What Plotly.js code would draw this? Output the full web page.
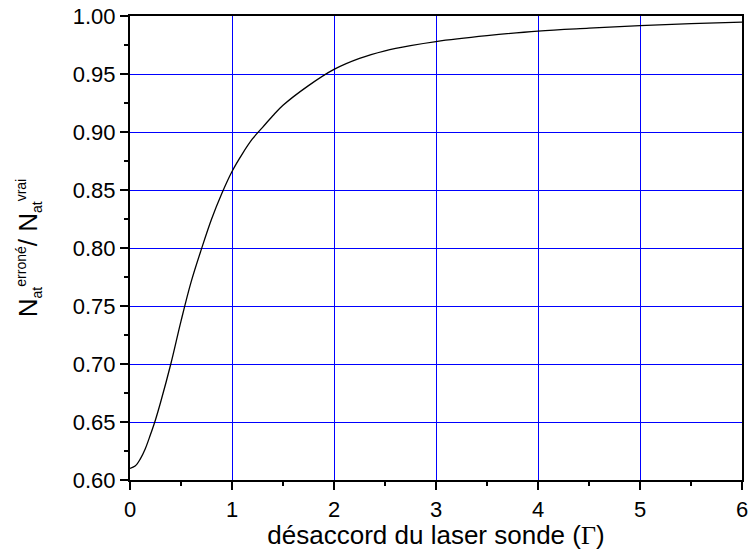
<!DOCTYPE html>
<html>
<head>
<meta charset="utf-8">
<script src="https://cdn.plot.ly/plotly-3.0.1.min.js"></script>
<style>html,body{margin:0;padding:0;background:#fff;}#chart{width:748px;height:550px;}</style>
</head>
<body>
<div id="chart"></div>
<script>
// detuning of probe laser (in units of Gamma)
const detuning = [0, 0.05, 0.1, 0.15, 0.2, 0.25, 0.3, 0.4, 0.5, 0.6, 0.7, 0.8, 0.9, 1.0, 1.1, 1.2, 1.3, 1.4, 1.5, 1.75, 2.0, 2.25, 2.5, 2.75, 3.0, 3.5, 4.0, 4.5, 5.0, 5.5, 6.0];
// ratio N_at(erroné) / N_at(vrai)
const ratio = [0.610, 0.612, 0.618, 0.627, 0.639, 0.652, 0.667, 0.700, 0.737, 0.771, 0.799, 0.825, 0.847, 0.866, 0.881, 0.894, 0.904, 0.914, 0.923, 0.940, 0.954, 0.9635, 0.970, 0.9745, 0.978, 0.983, 0.987, 0.9895, 0.9917, 0.9934, 0.9948];
const xTicks = [0, 1, 2, 3, 4, 5, 6];
const xMinorTicks = [0.5, 1.5, 2.5, 3.5, 4.5, 5.5];
const yTicks = [0.60, 0.65, 0.70, 0.75, 0.80, 0.85, 0.90, 0.95, 1.00];
const yMinorTicks = [0.625, 0.675, 0.725, 0.775, 0.825, 0.875, 0.925, 0.975];
const xTitle = 'désaccord du laser sonde (<span style="font-family:\'Liberation Serif\',serif">Γ</span>)';
const yTitle = 'N<sub><span style="font-size:14px">at</span></sub><sup><span style="font-size:14px">erroné</span></sup>/ N<sub><span style="font-size:14px">at</span></sub><sup><span style="font-size:14px">vrai</span></sup>';

const trace = {
  x: detuning, y: ratio, type: 'scatter', mode: 'lines',
  line: {color: '#000', width: 1.3, shape: 'spline', smoothing: 1},
  hoverinfo: 'skip'
};
// invisible trace to activate the minor-tick overlay axes
const ghost = {x: [0], y: [0.6], xaxis: 'x2', yaxis: 'y2', mode: 'markers', marker: {opacity: 0}, hoverinfo: 'skip'};

const font = {family: '"Liberation Sans", Arial, sans-serif', color: '#000'};
const blue = '#0000ff';
const layout = {
  width: 748, height: 550,
  margin: {l: 130, r: 6, t: 16, b: 70, pad: 0},
  paper_bgcolor: '#fff', plot_bgcolor: '#fff',
  showlegend: false,
  font: font,
  xaxis: {
    range: [0, 6], tickmode: 'array', tickvals: xTicks, ticktext: xTicks.map(String),
    showgrid: true, gridcolor: blue, gridwidth: 1,
    zeroline: false, showline: true, linecolor: '#000', linewidth: 2, mirror: true,
    ticks: 'outside', ticklen: 8, tickwidth: 2, tickcolor: '#000',
    ticklabeloverflow: 'allow', ticklabelstandoff: 1,
    tickfont: {size: 22, family: font.family, color: '#000'},
    title: {text: xTitle, font: {size: 26, family: font.family, color: '#000'}, standoff: 18},
    automargin: false
  },
  yaxis: {
    range: [0.60, 1.00], tickmode: 'array', tickvals: yTicks, ticktext: yTicks.map(v => v.toFixed(2)),
    showgrid: true, gridcolor: blue, gridwidth: 1,
    zeroline: false, showline: true, linecolor: '#000', linewidth: 2, mirror: true,
    ticks: 'outside', ticklen: 8, tickwidth: 2, tickcolor: '#000',
    tickfont: {size: 22, family: font.family, color: '#000'},
    title: {text: yTitle, font: {size: 26, family: font.family, color: '#000'}, standoff: 28},
    automargin: false
  },
  xaxis2: {
    overlaying: 'x', anchor: 'y', side: 'bottom', range: [0, 6],
    tickmode: 'array', tickvals: xMinorTicks, showticklabels: false,
    ticks: 'outside', ticklen: 5, tickwidth: 2, tickcolor: '#000',
    showgrid: false, zeroline: false, showline: false
  },
  yaxis2: {
    overlaying: 'y', anchor: 'x', side: 'left', range: [0.60, 1.00],
    tickmode: 'array', tickvals: yMinorTicks, showticklabels: false,
    ticks: 'outside', ticklen: 5, tickwidth: 2, tickcolor: '#000',
    showgrid: false, zeroline: false, showline: false
  }
};
Plotly.newPlot('chart', [trace, ghost], layout, {staticPlot: true, displayModeBar: false});
</script>
</body>
</html>
